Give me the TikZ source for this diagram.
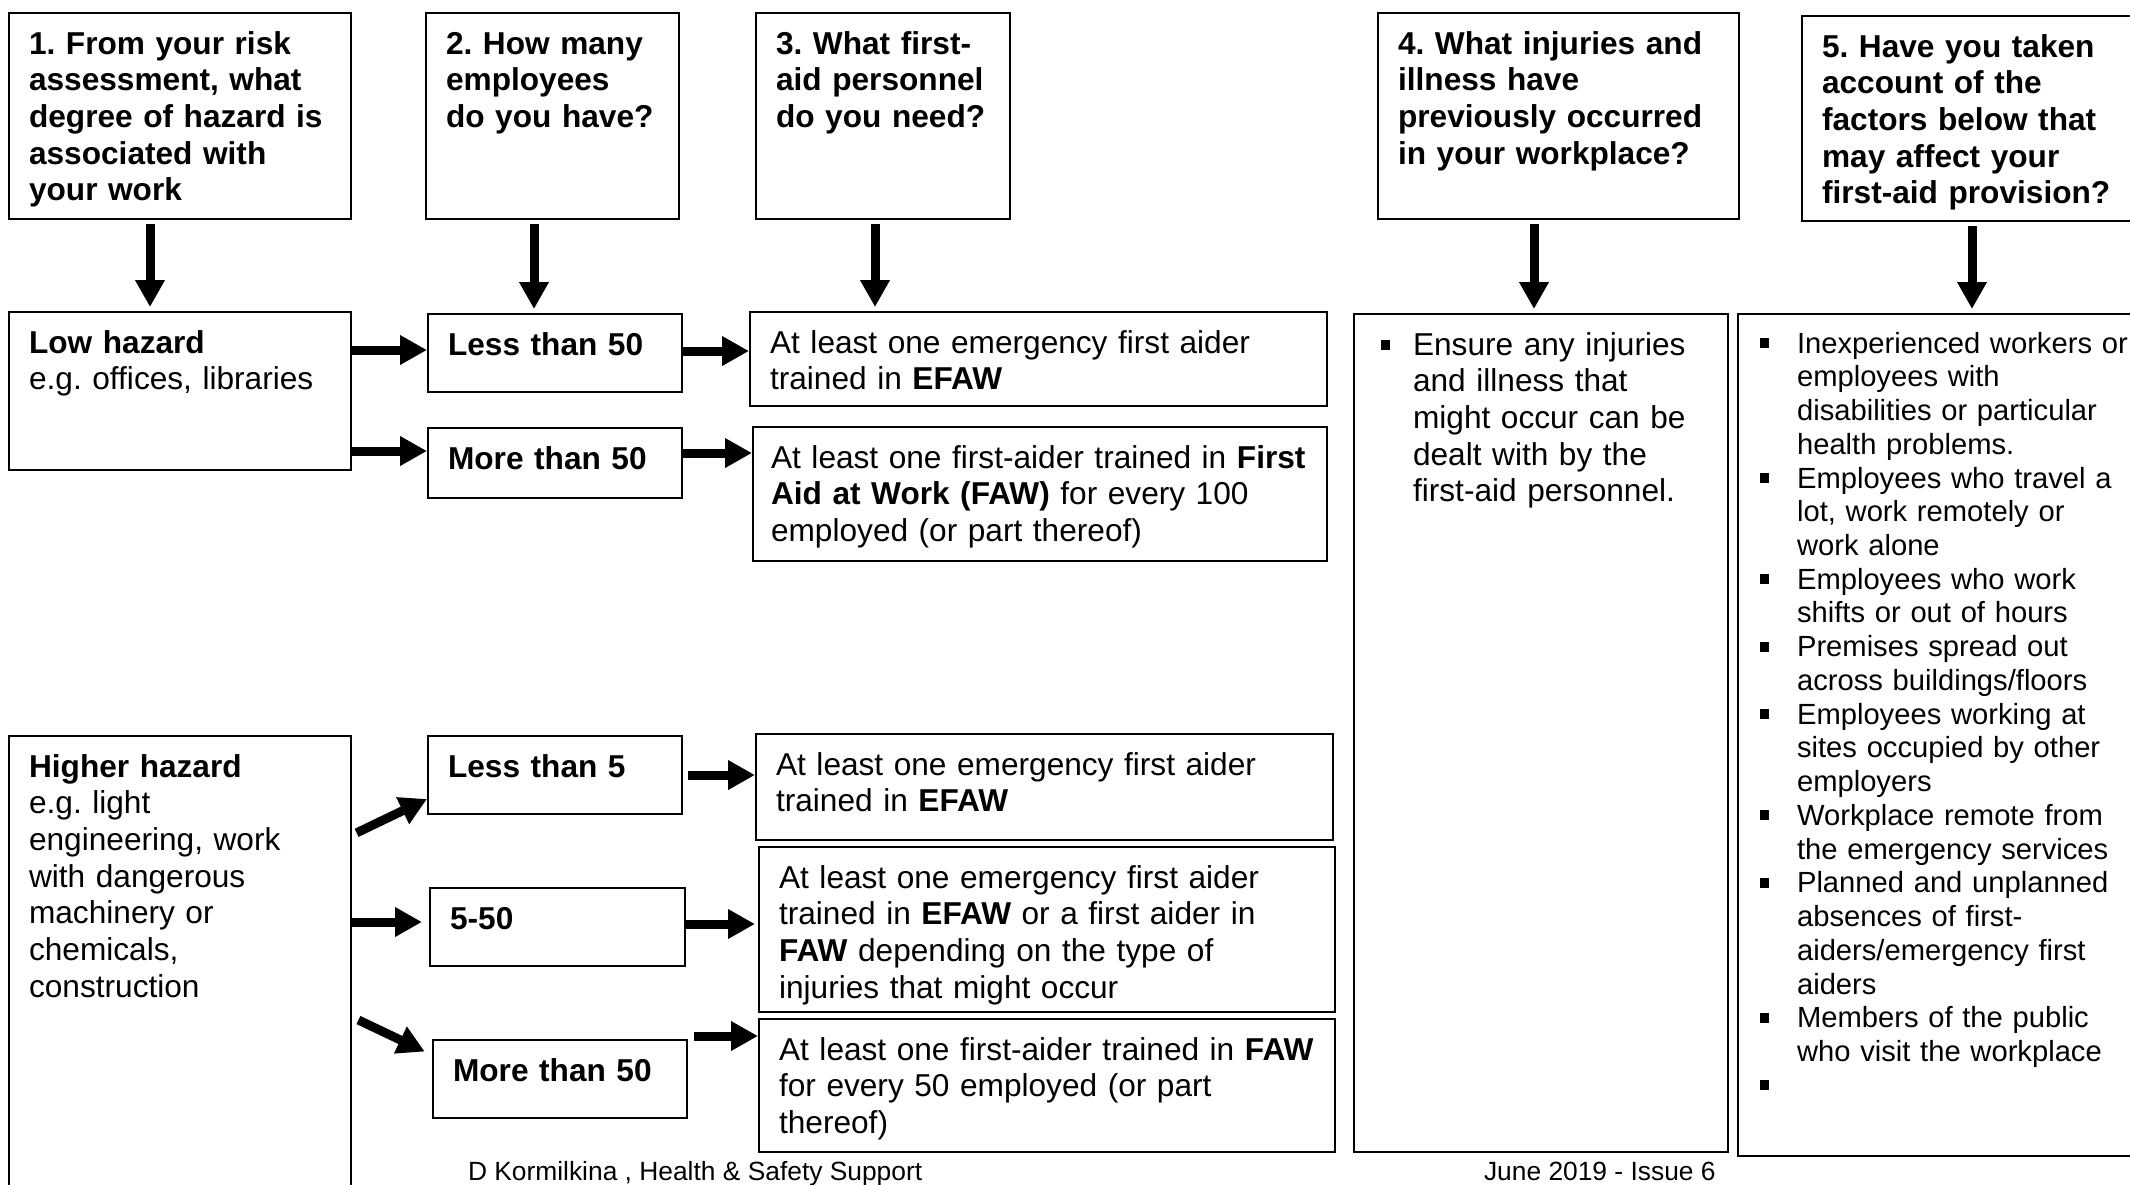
\documentclass[tikz,border=0pt]{standalone}
\usepackage{fontspec}
\setmainfont{Liberation Sans}
\usetikzlibrary{arrows.meta}
\frenchspacing

\newcommand{\sqb}[1][0.2mm]{\makebox[3.9mm][l]{\hspace*{#1}\rule[0.5mm]{0.9mm}{1mm}}}
\newcommand{\contline}{\hspace*{3.9mm}}

\begin{document}
\begin{tikzpicture}
      [x = 0.1mm, y = -0.1mm, line width = 0.6pt,
       box/.style = {draw, anchor = north west, align = left,
         inner xsep = 2mm, inner ysep = 1.5mm, text height = 2.6mm,
         font = \fontsize{9}{10.44}\selectfont},
       qbox/.style = {box, font = \fontsize{9}{10.44}\selectfont\bfseries},
       arr/.style = {line width = 0.9mm,
         -{Triangle[width = 2.8mm, length = 2.7mm]}},
       foot/.style = {anchor = base west, inner sep = 0pt,
         font = \fontsize{7.5}{9}\selectfont}]
      \clip (0,0) rectangle (2130,1184);
      \node[qbox, text width = 30.2mm, text depth = 15mm] (q1) at (8,12)
        {1. From your risk\\ assessment, what\\ degree of hazard is\\ associated with\\ your work};
      \node[qbox, text width = 21.3mm, text depth = 15mm] (q2) at (425,12)
        {2. How many\\ employees\\ do you have?};
      \node[qbox, text width = 21.4mm, text depth = 15mm] (q3) at (755,12)
        {3. What first-\\ aid personnel\\ do you need?};
      \node[qbox, text width = 32.1mm, text depth = 15mm] (q4) at (1377,12)
        {4. What injuries and\\ illness have\\ previously occurred\\ in your workplace?};
      \node[qbox, text width = 30mm, text depth = 14.9mm] (q5) at (1801,15)
        {5. Have you taken\\ account of the\\ factors below that\\ may affect your\\ first-aid provision?};

      \node[box, text width = 30.2mm, text depth = 10.2mm] (low) at (8,311)
        {\textbf{Low hazard}\\ e.g. offices, libraries};
      \node[qbox, text width = 21.4mm, text depth = 2.2mm] (l50) at (427,313) {Less than 50};
      \node[qbox, text width = 21.4mm, text depth = 1.4mm] (m50) at (427,427) {More than 50};
      \node[box, text width = 53.7mm, text depth = 3.8mm] (e1) at (749,311)
        {At least one emergency first aider\\ trained in \textbf{EFAW}};
      \node[box, inner xsep = 1.8mm, text width = 53.8mm, text depth = 7.8mm] (f1) at (752,426)
        {At least one first-aider trained in \textbf{First}\\
         \textbf{Aid at Work (FAW)} for every 100\\ employed (or part thereof)};

      \node[box, text width = 30.2mm, text depth = 44.4mm] (high) at (8,735)
        {\textbf{Higher hazard}\\ e.g. light\\ engineering, work\\ with dangerous\\
         machinery or\\ chemicals,\\ construction};
      \node[qbox, text width = 21.4mm, text depth = 2.2mm] (l5) at (427,735) {Less than 5};
      \node[qbox, text width = 21.5mm, text depth = 2.2mm] (f550) at (429,887) {5-50};
      \node[qbox, text width = 21.4mm, text depth = 2.2mm] (m50h) at (432,1039) {More than 50};
      \node[box, text width = 53.7mm, text depth = 5mm] (e2) at (755,733)
        {At least one emergency first aider\\ trained in \textbf{EFAW}};
      \node[box, text width = 53.6mm, text depth = 10.9mm] (ef) at (758,846)
        {At least one emergency first aider\\ trained in \textbf{EFAW} or a first aider in\\
         \textbf{FAW} depending on the type of\\ injuries that might occur};
      \node[box, text width = 53.6mm, text depth = 7.7mm] (f2) at (758,1018)
        {At least one first-aider trained in \textbf{FAW}\\
         for every 50 employed (or part\\ thereof)};

      \node[box, text width = 33.4mm, text depth = 78.2mm] (b4c) at (1353,313)
        {\sqb[0.7mm]Ensure any injuries\\ \contline and illness that\\
         \contline might occur can be\\ \contline dealt with by the\\
         \contline first-aid personnel.};
      \node[box, text width = 39mm, text height = 2.4mm, text depth = 78.8mm,
            font = \fontsize{8.3}{9.6}\selectfont] (b5c) at (1737,313)
        {\sqb Inexperienced workers or\\ \contline employees with\\
         \contline disabilities or particular\\ \contline health problems.\\
         \sqb Employees who travel a\\ \contline lot, work remotely or\\
         \contline work alone\\
         \sqb Employees who work\\ \contline shifts or out of hours\\
         \sqb Premises spread out\\ \contline across buildings/floors\\
         \sqb Employees working at\\ \contline sites occupied by other\\
         \contline employers\\
         \sqb Workplace remote from\\ \contline the emergency services\\
         \sqb Planned and unplanned\\ \contline absences of first-\\
         \contline aiders/emergency first\\ \contline aiders\\
         \sqb Members of the public\\ \contline who visit the workplace\\
         \sqb};

      \node[foot] (author) at (467,1180) {D Kormilkina , Health \& Safety Support};
      \node[foot] (issue) at (1483,1180) {June 2019 - Issue 6};

      \foreach \q/\t/\x in {q1/low/150, q2/l50/534, q3/e1/875, q4/b4c/1534, q5/b5c/1972}
        \draw[arr, shorten <= 0.4mm, shorten >= 0.4mm] (\q.south -| \x,0) -- (\t.north -| \x,0);
      \foreach \a/\b/\y in {low/l50/350, low/m50/451, l50/e1/351, m50/f1/453}
        \draw[arr] (\a.east |- 0,\y) -- (\b.west |- 0,\y);
      \draw[arr, shorten >= 0.7mm] (high.east |- 0,922) -- (f550.west |- 0,922);
      \draw[arr, shorten <= 0.5mm] (l5.east |- 0,775) -- (e2.west |- 0,775);
      \draw[arr, shorten >= 0.3mm] (f550.east |- 0,924) -- (ef.west |- 0,924);
      \draw[arr, shorten <= 0.6mm] (m50h.east |- 0,1036) -- (f2.west |- 0,1036);
      \draw[arr, shorten <= 0.5mm] (high.east |- 0,835) -- (l5.west |- 0,799);
      \draw[arr, shorten <= 0.7mm, shorten >= 0.8mm] (high.east |- 0,1017) -- (m50h.west |- 0,1055);
\end{tikzpicture}
\end{document}
